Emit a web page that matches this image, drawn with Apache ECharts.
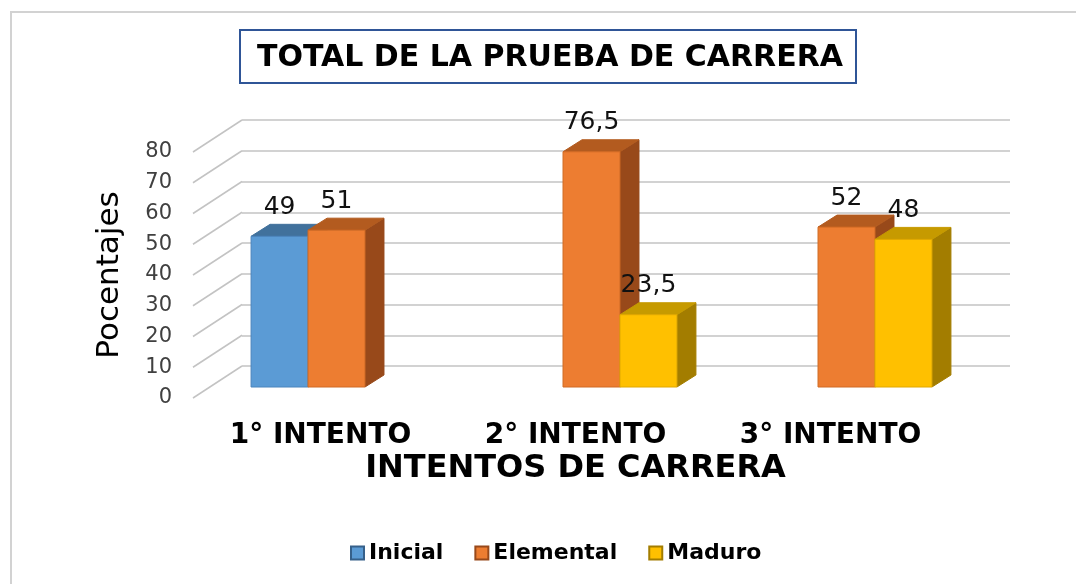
<!DOCTYPE html>
<html>
<head>
<meta charset="utf-8">
<script src="https://cdn.jsdelivr.net/npm/echarts@6/dist/echarts.min.js"></script>
<style>
html,body{margin:0;padding:0;background:#fff;overflow:hidden;}
#chart{width:1076px;height:584px;}
</style>
</head>
<body>
<div id="chart"></div>
<script>
// ---- data ----
const categories = ['1° INTENTO', '2° INTENTO', '3° INTENTO'];
const seriesNames = ['Inicial', 'Elemental', 'Maduro'];
const inicial = [49, null, null];
const elemental = [51, 76.5, 52];
const maduro = [null, 23.5, 48];
const yTicks = [0, 10, 20, 30, 40, 50, 60, 70, 80];
const titleText = 'TOTAL DE LA PRUEBA DE CARRERA';
const xTitle = 'INTENTOS DE CARRERA';
const yTitle = 'Pocentajes';

// ---- styling ----
const palette = [
  { front: '#5B9BD5', top: '#41719C', side: '#36608A', edge: '#4A84BC' },
  { front: '#ED7D31', top: '#B35B1F', side: '#98491A', edge: '#D06A24' },
  { front: '#FFC000', top: '#C69A00', side: '#A37D00', edge: '#E0A800' }
];
const BAR_DX = 19, BAR_DY = -12;      // bar depth
const WALL_DX = 49, WALL_DY = -32;    // floor depth (front edge -> back wall)
const GAP = 0.33;
const GRID_COLOR = '#c3c3c3';

const fmt = v => String(v).replace('.', ',');

function barRenderer(si) {
  return function (params, api) {
    const v = api.value(1);
    if (v == null || isNaN(v)) return;
    const ci = api.value(0);
    const base = api.coord([ci, 0]);
    const topP = api.coord([ci, v]);
    const band = api.size([1, 0])[0];
    const bw = band * (1 - GAP) / 3;
    const x0 = base[0] - 1.5 * bw + si * bw;
    const x1 = x0 + bw;
    const yb = base[1], yt = topP[1];
    const c = palette[si];
    return {
      type: 'group',
      children: [
        { type: 'polygon', shape: { points: [[x1, yb], [x1 + BAR_DX, yb + BAR_DY], [x1 + BAR_DX, yt + BAR_DY], [x1, yt]] },
          style: { fill: c.side, stroke: c.side, lineWidth: 1 } },
        { type: 'polygon', shape: { points: [[x0, yt], [x1, yt], [x1 + BAR_DX, yt + BAR_DY], [x0 + BAR_DX, yt + BAR_DY]] },
          style: { fill: c.top, stroke: c.top, lineWidth: 1 } },
        { type: 'rect', shape: { x: x0, y: yt, width: bw, height: yb - yt },
          style: { fill: c.front, stroke: c.edge, lineWidth: 1 } },
        { type: 'text', x: (x0 + x1) / 2, y: yt - 29,
          style: { text: fmt(v), align: 'center', verticalAlign: 'middle',
                   font: '25px "DejaVu Sans"', fill: '#111' } }
      ]
    };
  };
}

const valueArrays = [inicial, elemental, maduro];
const barSeries = valueArrays.map((arr, si) => ({
  name: seriesNames[si],
  type: 'custom',
  xAxisIndex: 0, yAxisIndex: 0,
  renderItem: barRenderer(si),
  itemStyle: { color: palette[si].front, borderColor: palette[si].side, borderWidth: 1 },
  encode: { x: 0, y: 1 },
  data: arr.map((v, i) => [i, v == null ? NaN : v]),
  z: 5
}));

const diagSeries = {
  type: 'custom',
  xAxisIndex: 1, yAxisIndex: 1,
  silent: true,
  encode: { x: 0, y: 1 },
  data: yTicks.map(t => [0, t]),
  renderItem: function (params, api) {
    const y = api.coord([0, api.value(1)])[1];
    const x = params.coordSys.x;
    return { type: 'line', shape: { x1: x, y1: y, x2: x + WALL_DX, y2: y + WALL_DY },
             style: { stroke: GRID_COLOR, lineWidth: 1.5 } };
  },
  z: 1
};

const valueAxisBase = { type: 'value', min: 0, max: 80, interval: 10 };

const option = {
  animation: false,
  backgroundColor: '#ffffff',
  title: {
    text: titleText,
    left: 550, top: 43, textAlign: 'center', padding: 0,
    textStyle: { fontFamily: 'DejaVu Sans', fontWeight: 'bold', fontSize: 30, color: '#000' }
  },
  graphic: [
    { type: 'polyline', shape: { points: [[11, 584], [11, 12], [1076, 12]] },
      style: { fill: null, stroke: '#d2d2d2', lineWidth: 2 }, z: -10 },
    { type: 'rect', shape: { x: 240, y: 30, width: 616, height: 53 },
      style: { fill: null, stroke: '#2F5597', lineWidth: 2 }, z: 10 }
  ],
  legend: {
    data: seriesNames,
    left: 345, top: 537,
    icon: 'rect', itemWidth: 13, itemHeight: 13, itemGap: 31,
    textStyle: { fontFamily: 'DejaVu Sans', fontWeight: 'bold', fontSize: 22, color: '#000' }
  },
  grid: [
    { left: 209, top: 141, width: 765, height: 246 },   // bar plane
    { left: 193, top: 152, width: 765, height: 246 },   // front edge
    { left: 242, top: 120, width: 768, height: 246 }    // back wall
  ],
  xAxis: [
    { type: 'category', gridIndex: 0, data: categories, show: false },
    { type: 'category', gridIndex: 1, data: categories,
      axisLine: { show: false }, axisTick: { show: false }, splitLine: { show: false },
      axisLabel: { margin: 24, fontFamily: 'DejaVu Sans', fontWeight: 'bold', fontSize: 28, color: '#000' },
      name: xTitle, nameLocation: 'middle', nameGap: 55,
      nameTextStyle: { fontFamily: 'DejaVu Sans', fontWeight: 'bold', fontSize: 32, color: '#000' } },
    { type: 'category', gridIndex: 2, data: categories, show: false }
  ],
  yAxis: [
    Object.assign({ gridIndex: 0, show: false }, valueAxisBase),
    Object.assign({ gridIndex: 1,
      axisLine: { show: false }, axisTick: { show: false }, splitLine: { show: false },
      axisLabel: { margin: 21, fontFamily: 'DejaVu Sans', fontSize: 21, color: '#404040' },
      name: yTitle, nameLocation: 'middle', nameGap: 68, nameRotate: 90,
      nameTextStyle: { fontFamily: 'DejaVu Sans', fontSize: 31, color: '#000' } }, valueAxisBase),
    Object.assign({ gridIndex: 2,
      axisLine: { show: false }, axisTick: { show: false }, axisLabel: { show: false },
      splitLine: { show: true, lineStyle: { color: GRID_COLOR, width: 1.5 } } }, valueAxisBase)
  ],
  series: [diagSeries].concat(barSeries)
};

const chart = echarts.init(document.getElementById('chart'), null, { renderer: 'canvas' });
chart.setOption(option);
</script>
</body>
</html>
